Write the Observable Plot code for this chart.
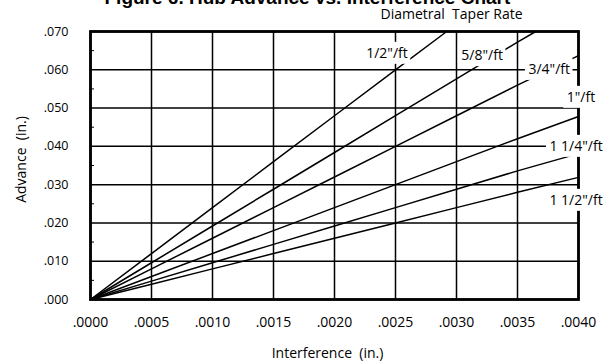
<!DOCTYPE html>
<html>
<head>
<meta charset="utf-8">
<script src="https://cdn.jsdelivr.net/npm/d3@7"></script>
<script src="https://cdn.jsdelivr.net/npm/@observablehq/plot@0.6"></script>
<style>
  html, body { margin: 0; padding: 0; background: #fff; overflow: hidden; }
  #chart { width: 615px; height: 362px; }
</style>
</head>
<body>
<div id="chart"></div>
<script>
// ---- Texts ----
const titleText = "Figure 6. Hub Advance vs. Interference Chart";
const subtitleText = "Diametral  Taper Rate";
const xLabelText = "Interference  (in.)";
const yLabelText = "Advance  (in.)";

// ---- Ticks ----
const xTicks = [0, 0.0005, 0.0010, 0.0015, 0.0020, 0.0025, 0.0030, 0.0035, 0.0040];
const xTickLabels = [".0000", ".0005", ".0010", ".0015", ".0020", ".0025", ".0030", ".0035", ".0040"];
const yTicks = [0, 0.010, 0.020, 0.030, 0.040, 0.050, 0.060, 0.070];
const yTickLabels = [".000", ".010", ".020", ".030", ".040", ".050", ".060", ".070"];
const yMinorTicks = [0.005, 0.015, 0.025, 0.035, 0.045, 0.055, 0.065];

// ---- Series ----
const seriesNames = ['1/2"/ft', '5/8"/ft', '3/4"/ft', '1"/ft', '1 1/4"/ft', '1 1/2"/ft'];

const xHalf = [0, 0.0005, 0.0010, 0.0015, 0.0020, 0.0025, 0.00292];
const yHalf = [0, 0.0120, 0.0240, 0.0360, 0.0480, 0.0600, 0.0700];

const xFiveEighths = [0, 0.0005, 0.0010, 0.0015, 0.0020, 0.0025, 0.0030, 0.0035, 0.00365];
const yFiveEighths = [0, 0.0096, 0.0192, 0.0288, 0.0384, 0.0480, 0.0576, 0.0672, 0.0700];

const xFull = [0, 0.0005, 0.0010, 0.0015, 0.0020, 0.0025, 0.0030, 0.0035, 0.0040];
const yThreeQuarter = [0, 0.0080, 0.0160, 0.0240, 0.0320, 0.0400, 0.0480, 0.0560, 0.0637];
const yOne = [0, 0.0060, 0.0120, 0.0180, 0.0240, 0.0300, 0.0360, 0.0420, 0.0478];
const yOneQuarter = [0, 0.0048, 0.0096, 0.0144, 0.0192, 0.0240, 0.0288, 0.0336, 0.0381];
const yOneHalf = [0, 0.0040, 0.0080, 0.0120, 0.0160, 0.0200, 0.0240, 0.0280, 0.0319];

// label anchor positions (data units)
const labelX = [0.00243, 0.00321, 0.00376, 0.00402, 0.00398, 0.00398];
const labelY = [0.0643, 0.0637, 0.0601, 0.0528, 0.0400, 0.0259];

// ---- Build table ----
const seriesX = [xHalf, xFiveEighths, xFull, xFull, xFull, xFull];
const seriesY = [yHalf, yFiveEighths, yThreeQuarter, yOne, yOneQuarter, yOneHalf];
const rows = [];
seriesNames.forEach((name, s) => {
  seriesX[s].forEach((x, i) => rows.push({series: name, x, y: seriesY[s][i]}));
});
const labels = seriesNames.map((name, i) => ({text: name, x: labelX[i], y: labelY[i]}));

// white box behind each label (measured from the label text)
const labelFont = "14px 'Open Sans'";
function labelBoxes(index, scales, values) {
  const g = d3.create("svg:g");
  const ctx = document.createElement("canvas").getContext("2d");
  ctx.font = labelFont;
  for (const i of index) {
    const w = ctx.measureText(values.text[i]).width;
    g.append("rect")
      .attr("x", values.x[i] - w / 2 - 3)
      .attr("y", values.y[i] - 11)
      .attr("width", w + 6)
      .attr("height", 22)
      .attr("fill", "white");
  }
  return g.node();
}

const chart = Plot.plot({
  width: 615,
  height: 362,
  marginLeft: 90,
  marginRight: 37,
  marginTop: 31,
  marginBottom: 63,
  style: {fontFamily: "'Open Sans', sans-serif", fontSize: "14px", color: "black", background: "white"},
  x: {domain: [0, 0.004], ticks: xTicks},
  y: {domain: [0, 0.07], ticks: yTicks},
  marks: [
    Plot.gridX(xTicks, {stroke: "black", strokeOpacity: 1, strokeWidth: 1.5}),
    Plot.gridY(yTicks, {stroke: "black", strokeOpacity: 1, strokeWidth: 1.5}),
    Plot.line(rows, {x: "x", y: "y", z: "series", stroke: "black", strokeWidth: 1.5}),
    Plot.frame({stroke: "black", strokeWidth: 2.8}),
    Plot.axisY({ticks: yMinorTicks, tickSize: 4, dx: 4, text: null, label: null, strokeWidth: 1}),
    Plot.axisY({ticks: yTicks, tickSize: 0, tickPadding: 22, fontSize: 12.5, label: null,
      tickFormat: d => yTickLabels[yTicks.indexOf(d)]}),
    Plot.axisX({ticks: xTicks, tickSize: 0, tickPadding: 18, fontSize: 14, label: null,
      tickFormat: d => xTickLabels[xTicks.indexOf(d)]}),
    Plot.text(labels, {x: "x", y: "y", text: "text", render: labelBoxes}),
    Plot.text(labels, {x: "x", y: "y", text: "text", fill: "black",
      fontSize: 14, textAnchor: "middle", lineAnchor: "middle"}),
    Plot.text([titleText], {frameAnchor: "top-left", dx: 14, dy: -28, lineAnchor: "bottom", textAnchor: "start",
      fontWeight: "bold", fontSize: 19, fontFamily: "'Liberation Sans', Arial, sans-serif", fill: "black"}),
    Plot.text([subtitleText], {frameAnchor: "top-left", dx: 290, dy: -12.5, lineAnchor: "bottom", textAnchor: "start",
      fontSize: 14, fill: "black"}),
    Plot.text([xLabelText], {frameAnchor: "bottom", dx: -7, dy: 58, lineAnchor: "bottom", textAnchor: "middle",
      fontSize: 14, fill: "black"}),
    Plot.text([yLabelText], {frameAnchor: "left", dx: -65, dy: -6, rotate: -90, lineAnchor: "bottom", textAnchor: "middle",
      fontSize: 14, fill: "black"})
  ]
});
document.getElementById("chart").appendChild(chart);
</script>
</body>
</html>
